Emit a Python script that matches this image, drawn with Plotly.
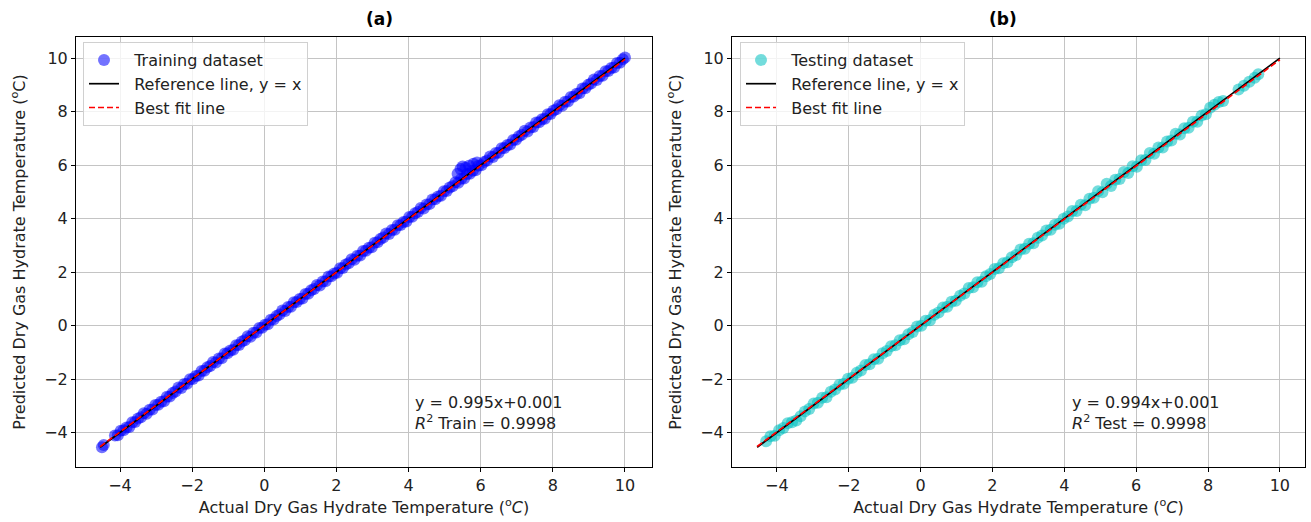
import plotly.graph_objects as go

# ---------------- data ----------------
train_actual = [
    -4.50, -4.45,
    -4.14, -4.06, -3.98, -3.90, -3.82, -3.74, -3.66, -3.58, -3.50, -3.42, -3.34, -3.26,
    -3.18, -3.10, -3.02, -2.94, -2.86, -2.78, -2.70, -2.62, -2.54, -2.46, -2.38, -2.30,
    -2.22, -2.14, -2.06, -1.98, -1.90, -1.82, -1.74, -1.66, -1.58, -1.50, -1.42, -1.34,
    -1.26, -1.18, -1.10, -1.02, -0.94, -0.86, -0.78, -0.70, -0.62, -0.54, -0.46, -0.38,
    -0.30, -0.22, -0.14, -0.06, 0.02, 0.10, 0.18, 0.26, 0.34, 0.42, 0.50, 0.58,
    0.66, 0.74, 0.82, 0.90, 0.98, 1.06, 1.14, 1.22, 1.30, 1.38, 1.46, 1.54,
    1.62, 1.70, 1.78, 1.86, 1.94, 2.02, 2.10, 2.18, 2.26, 2.34, 2.42, 2.50,
    2.58, 2.66, 2.74, 2.82, 2.90, 2.98, 3.06, 3.14, 3.22, 3.30, 3.38, 3.46,
    3.54, 3.62, 3.70, 3.78, 3.86, 3.94, 4.02, 4.10, 4.18, 4.26, 4.34, 4.42,
    4.50, 4.58, 4.66, 4.74, 4.82, 4.90, 4.98, 5.06, 5.14, 5.22, 5.30, 5.38,
    5.46, 5.54, 5.62, 5.70, 5.78, 5.86, 5.94, 6.02, 6.10, 6.18, 6.26, 6.34,
    6.42, 6.50, 6.58, 6.66, 6.74, 6.82, 6.90, 6.98, 7.06, 7.14, 7.22, 7.30,
    7.38, 7.46, 7.54, 7.62, 7.70, 7.78, 7.86, 7.94, 8.02, 8.10, 8.18, 8.26,
    8.34, 8.42, 8.50, 8.58, 8.66, 8.74, 8.82, 8.90, 8.98, 9.06, 9.14, 9.22,
    9.30, 9.38, 9.46, 9.54, 9.62, 9.70, 9.78, 9.86, 9.94, 10.00,
    5.36, 5.44, 5.50, 5.58, 5.68, 5.80, 5.90,
]
train_pred = [
    -4.55, -4.47,
    -4.11, -4.10, -3.93, -3.92, -3.81, -3.79, -3.62, -3.61, -3.48, -3.43, -3.28, -3.30,
    -3.15, -3.14, -2.97, -2.96, -2.85, -2.83, -2.66, -2.65, -2.52, -2.47, -2.32, -2.34,
    -2.19, -2.18, -2.01, -2.00, -1.89, -1.87, -1.70, -1.69, -1.56, -1.51, -1.36, -1.38,
    -1.23, -1.22, -1.05, -1.04, -0.93, -0.91, -0.74, -0.73, -0.60, -0.55, -0.40, -0.42,
    -0.27, -0.26, -0.09, -0.08, 0.03, 0.05, 0.22, 0.23, 0.36, 0.41, 0.56, 0.54,
    0.69, 0.70, 0.87, 0.88, 0.99, 1.01, 1.18, 1.19, 1.32, 1.37, 1.52, 1.50,
    1.65, 1.66, 1.83, 1.84, 1.95, 1.97, 2.14, 2.15, 2.28, 2.33, 2.48, 2.46,
    2.61, 2.62, 2.79, 2.80, 2.91, 2.93, 3.10, 3.11, 3.24, 3.29, 3.44, 3.42,
    3.57, 3.58, 3.75, 3.76, 3.87, 3.89, 4.06, 4.07, 4.20, 4.25, 4.40, 4.38,
    4.53, 4.54, 4.71, 4.72, 4.83, 4.85, 5.02, 5.03, 5.16, 5.21, 5.36, 5.34,
    5.49, 5.50, 5.67, 5.68, 5.79, 5.81, 5.98, 5.99, 6.12, 6.17, 6.32, 6.30,
    6.45, 6.46, 6.63, 6.64, 6.75, 6.77, 6.94, 6.95, 7.08, 7.13, 7.28, 7.26,
    7.41, 7.42, 7.59, 7.60, 7.71, 7.73, 7.90, 7.91, 8.04, 8.09, 8.24, 8.22,
    8.37, 8.38, 8.55, 8.56, 8.67, 8.69, 8.86, 8.87, 9.00, 9.05, 9.20, 9.18,
    9.33, 9.34, 9.51, 9.52, 9.63, 9.65, 9.82, 9.83, 9.96, 10.02,
    5.68, 5.85, 5.95, 5.90, 5.98, 6.05, 6.10,
]

test_actual = [
    -4.30, -4.18, -4.06, -3.94, -3.82, -3.70, -3.58, -3.46, -3.34, -3.22, -3.10, -2.98,
    -2.86, -2.74, -2.62, -2.50, -2.38, -2.26, -2.14, -2.02, -1.90, -1.78, -1.66, -1.54,
    -1.42, -1.30, -1.18, -1.06, -0.94, -0.82, -0.70, -0.58, -0.46, -0.34, -0.22, -0.10,
    0.02, 0.14, 0.26, 0.38, 0.50, 0.62, 0.74, 0.86, 0.98, 1.10, 1.22, 1.34,
    1.46, 1.58, 1.70, 1.82, 1.94, 2.06, 2.18, 2.30, 2.42, 2.54, 2.66, 2.78,
    2.90, 3.02, 3.14, 3.26, 3.38, 3.50, 3.62, 3.74, 3.86, 3.98, 4.10, 4.22,
    4.34, 4.46, 4.58, 4.70, 4.82, 4.94, 5.06, 5.18, 5.30, 5.42, 5.54, 5.66,
    5.78, 5.90, 6.02, 6.14, 6.26, 6.38, 6.50, 6.62, 6.74, 6.86, 6.98, 7.10,
    7.22, 7.34, 7.46, 7.58, 7.70, 7.82, 7.94, 8.06, 8.18, 8.30, 8.42,
    8.85, 9.00, 9.15, 9.30, 9.40,
]
test_pred = [
    -4.33, -4.14, -4.12, -3.92, -3.83, -3.65, -3.62, -3.55, -3.39, -3.21, -3.12, -2.92,
    -2.89, -2.70, -2.68, -2.48, -2.39, -2.21, -2.18, -1.99, -1.95, -1.77, -1.68, -1.48,
    -1.45, -1.26, -1.24, -1.04, -0.95, -0.77, -0.74, -0.55, -0.51, -0.33, -0.24, -0.04,
    -0.01, 0.18, 0.20, 0.40, 0.49, 0.67, 0.70, 0.89, 0.93, 1.11, 1.20, 1.40,
    1.43, 1.62, 1.64, 1.84, 1.93, 2.11, 2.14, 2.33, 2.37, 2.55, 2.64, 2.84,
    2.87, 3.06, 3.08, 3.28, 3.37, 3.55, 3.58, 3.77, 3.81, 3.99, 4.08, 4.28,
    4.28, 4.52, 4.50, 4.74, 4.78, 5.02, 4.98, 5.30, 5.22, 5.45, 5.48, 5.74,
    5.70, 5.96, 5.94, 6.18, 6.19, 6.45, 6.42, 6.66, 6.66, 6.88, 6.92, 7.17,
    7.14, 7.38, 7.40, 7.62, 7.62, 7.85, 7.90, 8.14, 8.26, 8.36, 8.40,
    8.83, 8.97, 9.12, 9.27, 9.40,
]

line_x = [-4.55, 10.0]
train_slope, train_intercept, train_r2 = 0.995, 0.001, 0.9998
test_slope, test_intercept, test_r2 = 0.994, 0.001, 0.9998
x_ticks = [-4, -2, 0, 2, 4, 6, 8, 10]
y_ticks = [-4, -2, 0, 2, 4, 6, 8, 10]

assert len(train_actual) == len(train_pred)
assert len(test_actual) == len(test_pred)

FONT = "DejaVu Sans"
FS = 16
W, H = 1311, 522
NB = "\u00a0\u00a0"
fig = go.Figure()


def add_panel(xa, ya, legend, ax, ap, name, color, slope, intercept):
    fig.add_trace(go.Scatter(x=ax, y=ap, mode="markers", name=NB + name, xaxis=xa, yaxis=ya,
                             legend=legend,
                             marker=dict(size=12, color=color, line=dict(width=0))))
    fig.add_trace(go.Scatter(x=line_x, y=line_x, mode="lines", name=NB + "Reference line, y = x",
                             xaxis=xa, yaxis=ya, legend=legend,
                             line=dict(color="black", width=1.7)))
    fit_y = [slope * v + intercept for v in line_x]
    fig.add_trace(go.Scatter(x=line_x, y=fit_y, mode="lines", name=NB + "Best fit line",
                             xaxis=xa, yaxis=ya, legend=legend,
                             line=dict(color="red", width=1.7, dash="6px,3px")))


add_panel("x", "y", "legend", train_actual, train_pred, "Training dataset",
          "rgba(0,0,255,0.55)", train_slope, train_intercept)
add_panel("x2", "y2", "legend2", test_actual, test_pred, "Testing dataset",
          "rgba(0,191,191,0.55)", test_slope, test_intercept)

axis_common = dict(showline=True, linecolor="black", linewidth=1, mirror=True,
                   ticks="outside", ticklen=4, tickcolor="black", tickwidth=1,
                   showgrid=True, gridcolor="#c4c4c4", gridwidth=1, zeroline=False,
                   tickfont=dict(family=FONT, size=FS, color="#222"))

xtitle = "Actual Dry Gas Hydrate Temperature (<sup>o</sup><i>C</i>)"
ytitle = "Predicted Dry Gas Hydrate Temperature (<sup>o</sup>C)"

yd = [(H - 467) / H, (H - 37) / H]
legend_common = dict(xref="paper", yref="paper", xanchor="left", yanchor="top",
                     bgcolor="rgba(255,255,255,0.8)", bordercolor="#d0d0d0", borderwidth=1,
                     font=dict(family=FONT, size=FS, color="#222"), tracegroupgap=0)
fig.update_layout(
    width=W, height=H,
    margin=dict(l=0, r=0, t=0, b=0),
    paper_bgcolor="white", plot_bgcolor="white",
    font=dict(family=FONT, size=FS, color="#222"),
    showlegend=True,
    xaxis=dict(domain=[76 / W, 652 / W], range=[-5.22, 10.75], tickvals=x_ticks,
               anchor="y", title=dict(text=xtitle, font=dict(size=FS), standoff=7), **axis_common),
    yaxis=dict(domain=yd, range=[-5.29, 10.79], tickvals=y_ticks, anchor="x",
               title=dict(text=ytitle, font=dict(size=FS), standoff=14), **axis_common),
    xaxis2=dict(domain=[732 / W, 1305 / W], range=[-5.25, 10.7], tickvals=x_ticks,
                anchor="y2", title=dict(text=xtitle, font=dict(size=FS), standoff=7), **axis_common),
    yaxis2=dict(domain=yd, range=[-5.29, 10.79], tickvals=y_ticks, anchor="x2",
                title=dict(text=ytitle, font=dict(size=FS), standoff=14), **axis_common),
    legend=dict(x=83 / W, y=(H - 42) / H, **legend_common),
    legend2=dict(x=740 / W, y=(H - 42) / H, **legend_common),
)

fig.add_annotation(text="<b>(a)</b>", x=(76 + 652) / 2 / W, y=(H - 19) / H, xref="paper",
                   yref="paper", yanchor="middle", showarrow=False,
                   font=dict(family=FONT, size=17, color="black"))
fig.add_annotation(text="<b>(b)</b>", x=(732 + 1305) / 2 / W, y=(H - 19) / H, xref="paper",
                   yref="paper", yanchor="middle", showarrow=False,
                   font=dict(family=FONT, size=17, color="black"))

fig.add_annotation(
    text=f"y = {train_slope}x+{train_intercept}<br><i>R</i><sup>2</sup> Train = {train_r2}",
    x=4.12, y=-3.28, xref="x", yref="y", xanchor="left", yanchor="middle", align="left",
    showarrow=False, font=dict(family=FONT, size=FS, color="#222"))
fig.add_annotation(
    text=f"y = {test_slope}x+{test_intercept}<br><i>R</i><sup>2</sup> Test = {test_r2}",
    x=4.16, y=-3.28, xref="x2", yref="y2", xanchor="left", yanchor="middle", align="left",
    showarrow=False, font=dict(family=FONT, size=FS, color="#222"))

fig.write_html("out.html", config={"displayModeBar": False},
               post_script="document.body.style.margin='0';")
